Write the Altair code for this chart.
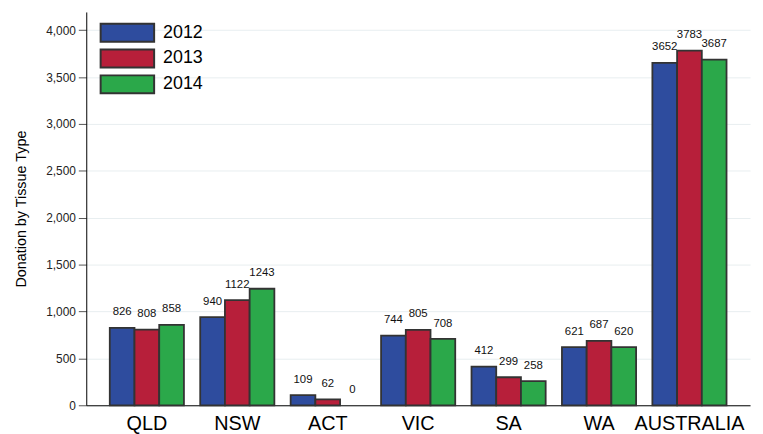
import altair as alt
import pandas as pd

regions = ["QLD", "NSW", "ACT", "VIC", "SA", "WA", "AUSTRALIA"]
years = ["2012", "2013", "2014"]
v2012 = [826, 940, 109, 744, 412, 621, 3652]
v2013 = [808, 1122, 62, 805, 299, 687, 3783]
v2014 = [858, 1243, 0, 708, 258, 620, 3687]
colors = ["#2E4C9E", "#B71F3A", "#2BA84A"]

rows = []
for i, r in enumerate(regions):
    for y, vals in zip(years, [v2012, v2013, v2014]):
        rows.append({"region": r, "year": y, "value": vals[i]})
df = pd.DataFrame(rows)

font = "Liberation Sans"

base = alt.Chart(df).encode(
    x=alt.X("region:N", sort=regions,
            scale=alt.Scale(paddingInner=0.18, paddingOuter=0.26),
            axis=alt.Axis(title=None, ticks=False, labelFontSize=20, labelPadding=8,
                          labelAngle=0, labelColor="#000", domainColor="#000",
                          labelFont=font)),
    xOffset=alt.XOffset("year:N", sort=years),
)

bars = base.mark_bar(stroke="#333333", strokeWidth=1.8).encode(
    y=alt.Y("value:Q", scale=alt.Scale(domain=[0, 4195], nice=False),
            axis=alt.Axis(title="Donation by Tissue Type", values=list(range(0, 4001, 500)),
                          format=",.0f", labelFontSize=12, labelColor="#222",
                          labelPadding=3,
                          titleFontSize=14.5, titleFontWeight="normal", titleColor="#000",
                          titlePadding=17, tickSize=8, tickColor="#555",
                          domainColor="#000", gridColor="#E8EEF0", labelFont=font,
                          titleFont=font)),
    color=alt.Color("year:N", sort=years,
                    scale=alt.Scale(domain=years, range=colors),
                    legend=alt.Legend(title=None, orient="none", legendX=13.5, legendY=11,
                                      symbolType="M-1,-1L5,-1L5,1L-1,1Z",
                                      symbolSize=324, symbolStrokeColor="#333333",
                                      symbolStrokeWidth=2, symbolOpacity=1,
                                      labelFontSize=18, labelFont=font, labelColor="#000",
                                      labelOffset=44, rowPadding=0, padding=0)),
    strokeOpacity=alt.condition("datum.value > 0", alt.value(1), alt.value(0)),
)

labels = base.mark_text(dy=-15.5, fontSize=11.5, font=font, color="#111").encode(
    y=alt.Y("value:Q"),
    text=alt.Text("value:Q"),
)

chart = (bars + labels).properties(
    width=670, height=397,
    padding={"left": 5, "top": 2, "right": 5, "bottom": 0},
).configure_view(stroke=None).configure_axis(labelFont=font)

chart.save("out.html", embed_options={"renderer": "svg", "actions": False})
